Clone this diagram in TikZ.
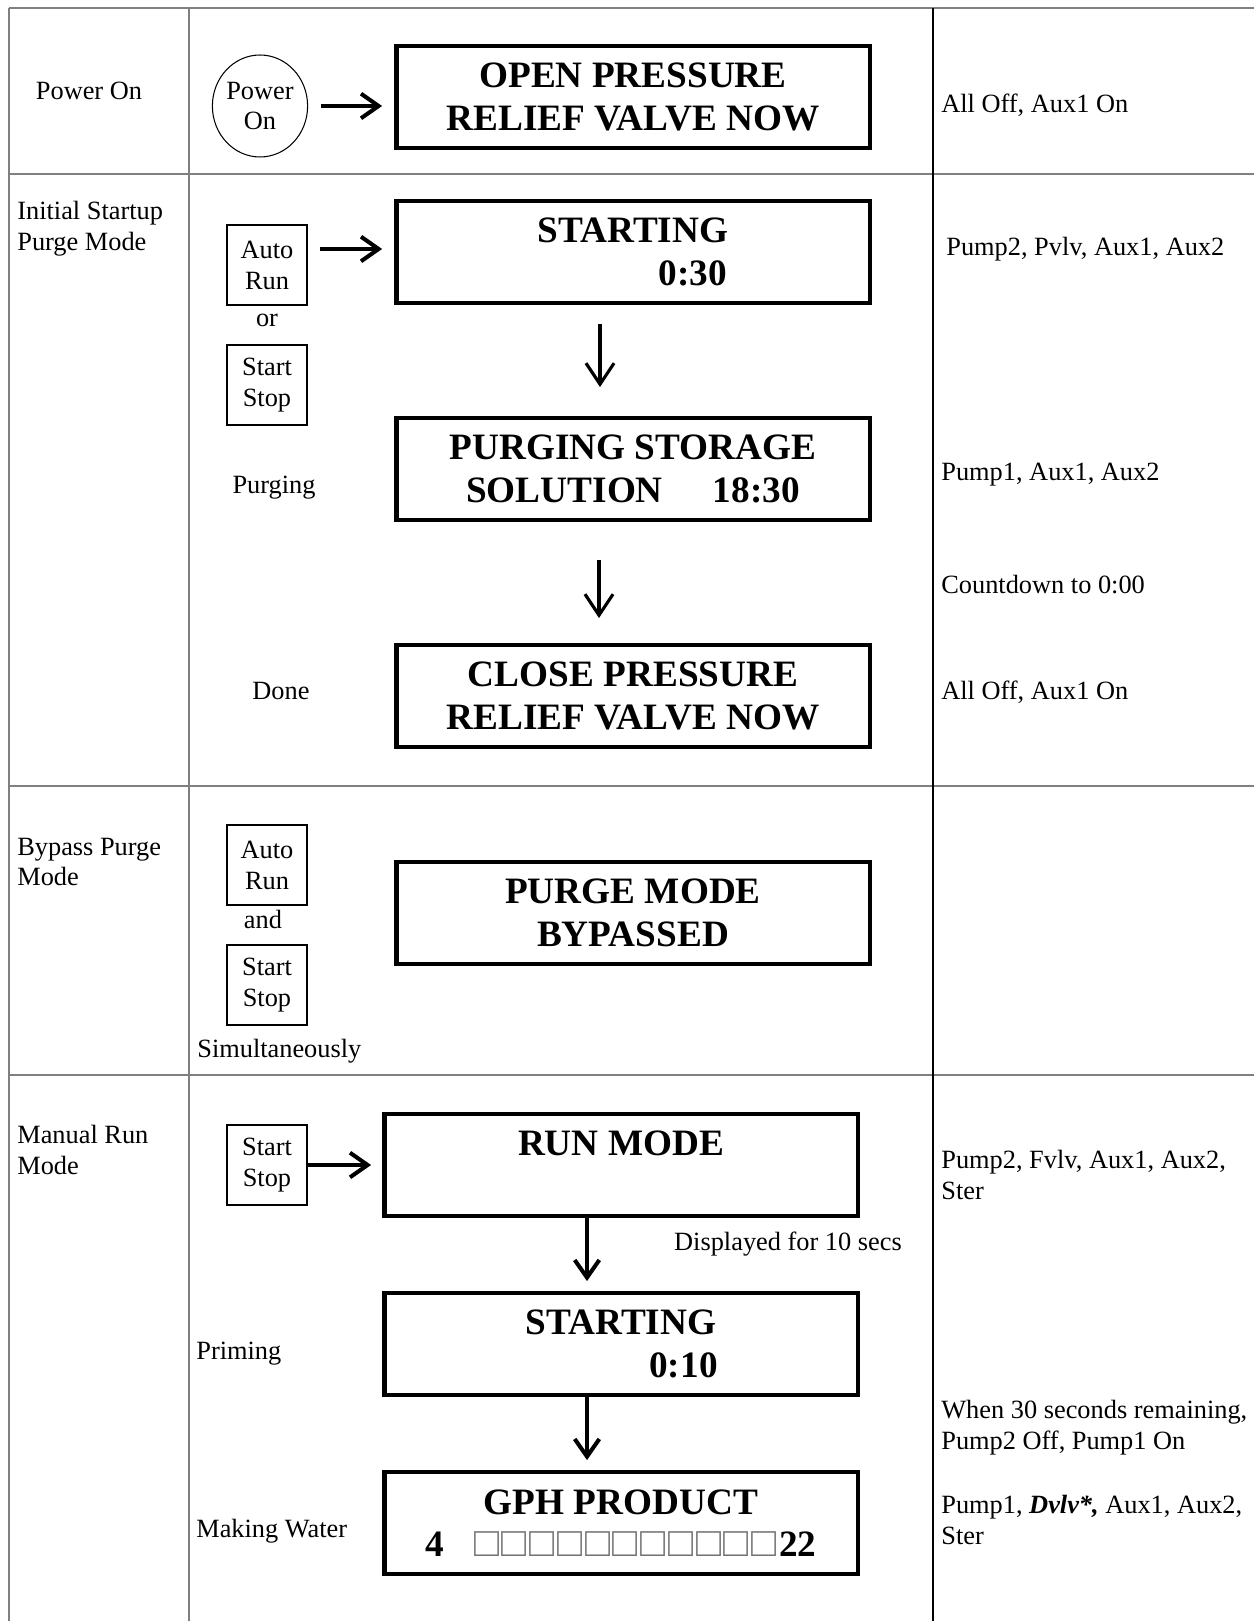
\documentclass[tikz,border=0pt]{standalone}
\usepackage{fontspec}
\setmainfont{Liberation Serif}
\usetikzlibrary{arrows.meta,shapes.geometric}

\newcommand{\txtfont}{\fontsize{15}{17.6}\selectfont}
\newcommand{\lcdfont}{\fontsize{21.2}{24.1}\selectfont\bfseries}
\newcommand{\sqfont}{\fontsize{23.6}{24}\selectfont\mdseries\color{black!55}}
\newcommand{\lcdsq}{{\sqfont □}\hspace{0.054cm}}

\tikzset{
	rowtxt/.style={font=\txtfont, align=left, anchor=west, inner sep=0pt},
	midtxt/.style={font=\txtfont, align=center, inner sep=0pt},
	btnbox/.style={draw, line width=1.2pt, font=\txtfont, align=center, minimum width=1.6cm, minimum height=1.6cm, inner sep=0pt},
	lcdbox/.style={draw, line width=2.5pt, font=\lcdfont, align=center, minimum width=9.47cm, minimum height=2.03cm, inner sep=0pt},
	harrow/.style={line width=2.3pt, -{Straight Barb[length=10pt,width=14pt]}},
	varrow/.style={line width=1.8pt, -{Straight Barb[length=12pt,width=16pt]}},
	gridline/.style={line width=1pt, color=black!50},
}

\begin{document}
\begin{tikzpicture}[x=0.02cm, y=-0.02cm]
	\useasboundingbox (0,0) rectangle (1254,1621);
	
	%%%%% TABLE %%%%%
	\foreach \y in {8,174,786,1075}
		\draw[gridline] (9,\y) -- (1254,\y);
	\draw[gridline] (9,8) -- (9,1621);
	\draw[gridline] (189,8) -- (189,1621);
	\draw[line width=1.6pt] (933,8) -- (933,1621);
	
	%%%%% POWER ON %%%%%
	\node[midtxt] (lblpower) at (89,91) {Power On};
	\node[draw, ellipse, line width=0.6pt, font=\txtfont, align=center, minimum width=1.84cm, minimum height=2.04cm, inner sep=0pt] (pwr) at (260,106) {Power\\On};
	\node[lcdbox] (openbox) at (633,97) {OPEN PRESSURE\\RELIEF VALVE NOW};
	\draw[harrow, shorten <=0.26cm, shorten >=0.24cm] (pwr.east) -- (pwr.east -| openbox.west);
	\node[rowtxt] (stpower) at (941,105) {All Off, Aux1 On};
	
	%%%%% INITIAL STARTUP %%%%%
	\node[rowtxt] (lblinit) at (17,229) {Initial Startup\\Purge Mode};
	\node[btnbox] (autoA) at (267,265) {Auto\\Run};
	\node[midtxt] (orA) at (267,320) {or};
	\node[btnbox] (stopA) at (267,385) {Start\\Stop};
	\node[lcdbox] (startA) at (633,252) {STARTING\\\hspace*{2.4cm}0:30};
	\node[lcdbox] (purgA) at (633,469) {PURGING STORAGE\\SOLUTION\hspace{1.0cm}18:30};
	\node[lcdbox] (closeA) at (633,696) {CLOSE PRESSURE\\RELIEF VALVE NOW};
	\node[midtxt] (lblpurg) at (274,488) {Purging};
	\node[midtxt] (lbldone) at (281,691) {Done};
	\draw[harrow, shorten <=0.24cm, shorten >=0.24cm] ([yshift=0.06cm]autoA.east |- startA.west) -- ([yshift=0.06cm]startA.west);
	\draw[varrow, shorten <=0.38cm, shorten >=0.58cm] ([xshift=-0.66cm]startA.south) -- ([xshift=-0.66cm]purgA.north);
	\draw[varrow, shorten <=0.76cm, shorten >=0.5cm] ([xshift=-0.68cm]purgA.south) -- ([xshift=-0.68cm]closeA.north);
	\node[rowtxt] (stinit) at (946,249) {Pump2, Pvlv, Aux1, Aux2};
	\node[rowtxt] (stpurg) at (941,475) {Pump1, Aux1, Aux2};
	\node[rowtxt] (stcount) at (941,585) {Countdown to 0:00};
	\node[rowtxt] (stdone) at (941,692) {All Off, Aux1 On};
	
	%%%%% BYPASS %%%%%
	\node[rowtxt] (lblbypass) at (17,862) {Bypass Purge\\Mode};
	\node[btnbox] (autoB) at (267,865) {Auto\\Run};
	\node[midtxt] (andB) at (263,919) {and};
	\node[btnbox] (stopB) at (267,985) {Start\\Stop};
	\node[rowtxt] (simB) at (197,1051) {Simultaneously};
	\node[lcdbox] (bypassB) at (633,913) {PURGE MODE\\BYPASSED};
	
	%%%%% MANUAL RUN %%%%%
	\node[rowtxt] (lblmanual) at (17,1150) {Manual Run\\Mode};
	\node[btnbox] (stopC) at (267,1165) {Start\\Stop};
	\node[lcdbox] (runC) at (621,1165) {RUN MODE\\\phantom{RUN MODE}};
	\draw[harrow, shorten >=0.22cm] (stopC.east) -- (runC.west);
	\node[midtxt] (dispC) at (788,1244) {Displayed for 10 secs};
	\node[lcdbox] (startC) at (621,1344) {STARTING\\\hspace*{2.5cm}0:10};
	\node[rowtxt] (lblprime) at (196,1354) {Priming};
	\node[lcdbox] (gphC) at (621,1523) {GPH PRODUCT\\4\hspace{0.6cm}\lcdsq\lcdsq\lcdsq\lcdsq\lcdsq\lcdsq\lcdsq\lcdsq\lcdsq\lcdsq\lcdsq 22};
	\node[rowtxt] (lblmake) at (196,1531) {Making Water};
	\draw[harrow, shorten >=0.2cm] ([xshift=-0.68cm]runC.south) -- ([xshift=-0.68cm]startC.north);
	\draw[harrow, shorten >=0.2cm] ([xshift=-0.68cm]startC.south) -- ([xshift=-0.68cm]gphC.north);
	\node[rowtxt] (strun) at (941,1175) {Pump2, Fvlv, Aux1, Aux2,\\Ster};
	\node[rowtxt] (stwhen) at (941,1428) {When 30 seconds remaining,\\Pump2 Off, Pump1 On};
	\node[rowtxt] (stmake) at (941,1520) {Pump1, \textbf{\textit{Dvlv*,}} Aux1, Aux2,\\Ster};
\end{tikzpicture}
\end{document}
